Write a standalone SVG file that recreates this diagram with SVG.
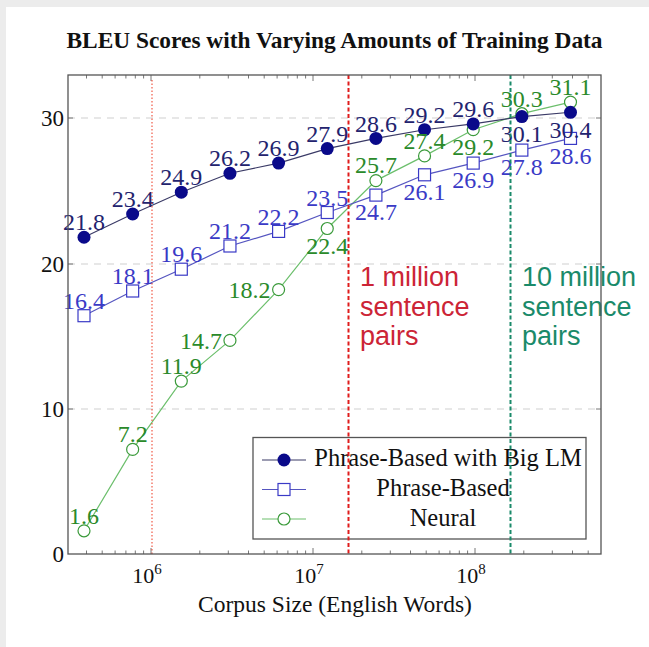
<svg xmlns="http://www.w3.org/2000/svg" width="649" height="647" viewBox="0 0 649 647">
<style>
.serif{font-family:"Liberation Serif","Times New Roman",serif}
.lbl{font-family:"Liberation Serif","Times New Roman",serif;font-size:24px;text-anchor:middle}
.nav{fill:#23236e}
.blu{fill:#3a3ac6}
.grn{fill:#2a8a2a}
.grid{stroke:#cfcfcf;stroke-width:1;stroke-dasharray:7 6}
.tick{stroke:#777;stroke-width:1}
.ann{font-family:"Liberation Sans",Arial,sans-serif;font-size:27px}
</style>
<rect x="0" y="0" width="649" height="647" fill="#ffffff"/>
<rect x="0" y="0" width="649" height="7" fill="#ececec"/>
<rect x="0" y="0" width="6" height="647" fill="#ececec"/>

<g id="title"><text class="serif" x="334.5" y="48" font-size="23.4" font-weight="bold" text-anchor="middle" fill="#111">BLEU Scores with Varying Amounts of Training Data</text></g>

<g id="grid">
<line class="grid" x1="68" y1="118" x2="601" y2="118"/>
<line class="grid" x1="68" y1="264" x2="601" y2="264"/>
<line class="grid" x1="68" y1="409" x2="601" y2="409"/>
</g>

<g id="ticks">
<path class="tick" d="M151,554v-6M313,554v-6M475,554v-6M151,75v6M313,75v6M475,75v6
M86.5,554v-3.5M102.2,554v-3.5M115.1,554v-3.5M125.9,554v-3.5M135.3,554v-3.5M143.6,554v-3.5
M199.8,554v-3.5M228.3,554v-3.5M248.5,554v-3.5M264.2,554v-3.5M277.1,554v-3.5M287.9,554v-3.5M297.3,554v-3.5M305.6,554v-3.5
M361.8,554v-3.5M390.3,554v-3.5M410.5,554v-3.5M426.2,554v-3.5M439.1,554v-3.5M449.9,554v-3.5M459.3,554v-3.5M467.6,554v-3.5
M523.8,554v-3.5M552.3,554v-3.5M572.5,554v-3.5M588.2,554v-3.5
M86.5,75v3.5M102.2,75v3.5M115.1,75v3.5M125.9,75v3.5M135.3,75v3.5M143.6,75v3.5
M199.8,75v3.5M228.3,75v3.5M248.5,75v3.5M264.2,75v3.5M277.1,75v3.5M287.9,75v3.5M297.3,75v3.5M305.6,75v3.5
M361.8,75v3.5M390.3,75v3.5M410.5,75v3.5M426.2,75v3.5M439.1,75v3.5M449.9,75v3.5M459.3,75v3.5M467.6,75v3.5
M523.8,75v3.5M552.3,75v3.5M572.5,75v3.5M588.2,75v3.5
M68,118h5M68,264h5M68,409h5M601,118h-5M601,264h-5M601,409h-5"/>
</g>

<g id="axis-labels" class="serif" fill="#111">
<text x="64" y="126" font-size="23" text-anchor="end">30</text>
<text x="64" y="272" font-size="23" text-anchor="end">20</text>
<text x="64" y="417" font-size="23" text-anchor="end">10</text>
<text x="64" y="562" font-size="23" text-anchor="end">0</text>
<text x="147" y="583" font-size="22" text-anchor="middle">10<tspan dy="-9" font-size="15">6</tspan></text>
<text x="309" y="583" font-size="22" text-anchor="middle">10<tspan dy="-9" font-size="15">7</tspan></text>
<text x="471" y="583" font-size="22" text-anchor="middle">10<tspan dy="-9" font-size="15">8</tspan></text>
<text x="335" y="612" font-size="23.5" text-anchor="middle">Corpus Size (English Words)</text>
</g>

<g id="series-neural">
<polyline fill="none" stroke="#6cbf6c" stroke-width="1.2" points="84,530.8 132.65,449.4 181.3,381.1 229.95,340.4 278.6,289.6 327.25,228.5 375.9,180.6 424.55,155.9 473.2,129.7 521.85,113.7 570.5,102.1"/>
<g fill="#fff" stroke="#3a9a3a" stroke-width="1.2">
<circle cx="84" cy="530.8" r="6"/><circle cx="132.65" cy="449.4" r="6"/><circle cx="181.3" cy="381.1" r="6"/><circle cx="229.95" cy="340.4" r="6"/><circle cx="278.6" cy="289.6" r="6"/><circle cx="327.25" cy="228.5" r="6"/><circle cx="375.9" cy="180.6" r="6"/><circle cx="424.55" cy="155.9" r="6"/><circle cx="473.2" cy="129.7" r="6"/><circle cx="521.85" cy="113.7" r="6"/><circle cx="570.5" cy="102.1" r="6"/>
</g>
</g>

<g id="series-phrase-based">
<polyline fill="none" stroke="#5555c0" stroke-width="1.2" points="84,315.7 132.65,291 181.3,269.2 229.95,246 278.6,231.4 327.25,212.5 375.9,195.1 424.55,174.8 473.2,163.1 521.85,150.1 570.5,138.4"/>
<g fill="#fff" stroke="#3a3ac6" stroke-width="1.2">
<rect x="78" y="309.7" width="12" height="12"/><rect x="126.65" y="285" width="12" height="12"/><rect x="175.3" y="263.2" width="12" height="12"/><rect x="223.95" y="240" width="12" height="12"/><rect x="272.6" y="225.4" width="12" height="12"/><rect x="321.25" y="206.5" width="12" height="12"/><rect x="369.9" y="189.1" width="12" height="12"/><rect x="418.55" y="168.8" width="12" height="12"/><rect x="467.2" y="157.1" width="12" height="12"/><rect x="515.85" y="144.1" width="12" height="12"/><rect x="564.5" y="132.4" width="12" height="12"/>
</g>
</g>

<g id="series-big-lm">
<polyline fill="none" stroke="#3a3a66" stroke-width="1.1" points="84,237.25 132.65,214 181.3,192.2 229.95,173.3 278.6,163.1 327.25,148.6 375.9,138.4 424.55,129.7 473.2,123.9 521.85,116.6 570.5,112.3"/>
<g fill="#0a0a8a">
<circle cx="84" cy="237.25" r="6.5"/><circle cx="132.65" cy="214" r="6.5"/><circle cx="181.3" cy="192.2" r="6.5"/><circle cx="229.95" cy="173.3" r="6.5"/><circle cx="278.6" cy="163.1" r="6.5"/><circle cx="327.25" cy="148.6" r="6.5"/><circle cx="375.9" cy="138.4" r="6.5"/><circle cx="424.55" cy="129.7" r="6.5"/><circle cx="473.2" cy="123.9" r="6.5"/><circle cx="521.85" cy="116.6" r="6.5"/><circle cx="570.5" cy="112.3" r="6.5"/>
</g>
</g>

<g id="labels-big-lm" class="lbl nav">
<text x="84" y="230">21.8</text><text x="132.65" y="207">23.4</text><text x="181.3" y="185">24.9</text><text x="229.95" y="166">26.2</text><text x="278.6" y="156">26.9</text><text x="327.25" y="141.5">27.9</text><text x="375.9" y="131.5">28.6</text><text x="424.55" y="122.5">29.2</text><text x="473.2" y="117">29.6</text><text x="521.85" y="142">30.1</text><text x="570.5" y="137.5">30.4</text>
</g>
<g id="labels-phrase-based" class="lbl blu">
<text x="84" y="308.5">16.4</text><text x="132.65" y="284">18.1</text><text x="181.3" y="262">19.6</text><text x="229.95" y="239">21.2</text><text x="278.6" y="224.5">22.2</text><text x="327.25" y="205.5">23.5</text><text x="375.9" y="220">24.7</text><text x="424.55" y="200">26.1</text><text x="473.2" y="188">26.9</text><text x="521.85" y="175">27.8</text><text x="570.5" y="163.5">28.6</text>
</g>
<g id="labels-neural" class="lbl grn">
<text x="84" y="523.5">1.6</text><text x="132.65" y="442">7.2</text><text x="181.3" y="374">11.9</text><text x="222" y="348.5" text-anchor="end">14.7</text><text x="270.5" y="298" text-anchor="end">18.2</text><text x="327.25" y="253.5">22.4</text><text x="375.9" y="173">25.7</text><text x="424.55" y="148.5">27.4</text><text x="473.2" y="155">29.2</text><text x="521.85" y="106.5">30.3</text><text x="570.5" y="95">31.1</text>
</g>

<g id="legend">
<rect x="253" y="437.5" width="333" height="101.5" fill="#fff" stroke="#555" stroke-width="1.3"/>
<line x1="262" y1="460" x2="306" y2="460" stroke="#3a3a66" stroke-width="1.1"/>
<circle cx="284" cy="460" r="6.5" fill="#0a0a8a"/>
<line x1="262" y1="489.5" x2="306" y2="489.5" stroke="#5555c0" stroke-width="1.2"/>
<rect x="278" y="483.5" width="12" height="12" fill="#fff" stroke="#3a3ac6" stroke-width="1.2"/>
<line x1="262" y1="519" x2="306" y2="519" stroke="#6cbf6c" stroke-width="1.2"/>
<circle cx="284" cy="519" r="6" fill="#fff" stroke="#3a9a3a" stroke-width="1.2"/>
<g class="serif" font-size="24.5" fill="#111" text-anchor="middle">
<text x="448" y="466">Phrase-Based with Big LM</text>
<text x="443" y="496">Phrase-Based</text>
<text x="443" y="526">Neural</text>
</g>
</g>

<g id="markers">
<line x1="152" y1="80" x2="152" y2="554" stroke="#ee4a36" stroke-width="1.1" stroke-dasharray="1.5 2"/>
<line x1="348.5" y1="75" x2="348.5" y2="554" stroke="#e01c1c" stroke-width="2" stroke-dasharray="4 2.5"/>
<line x1="510.5" y1="75" x2="510.5" y2="554" stroke="#1a8a6a" stroke-width="2" stroke-dasharray="4 2.5"/>
</g>

<g id="annotations" class="ann">
<g fill="#cc2436">
<text x="360" y="286">1 million</text>
<text x="360" y="316">sentence</text>
<text x="360" y="345">pairs</text>
</g>
<g fill="#1a8a6a">
<text x="522" y="286">10 million</text>
<text x="522" y="316">sentence</text>
<text x="522" y="345">pairs</text>
</g>
</g>

<g id="frame"><rect x="68" y="75" width="533" height="479" fill="none" stroke="#555" stroke-width="1.3"/></g>
</svg>
